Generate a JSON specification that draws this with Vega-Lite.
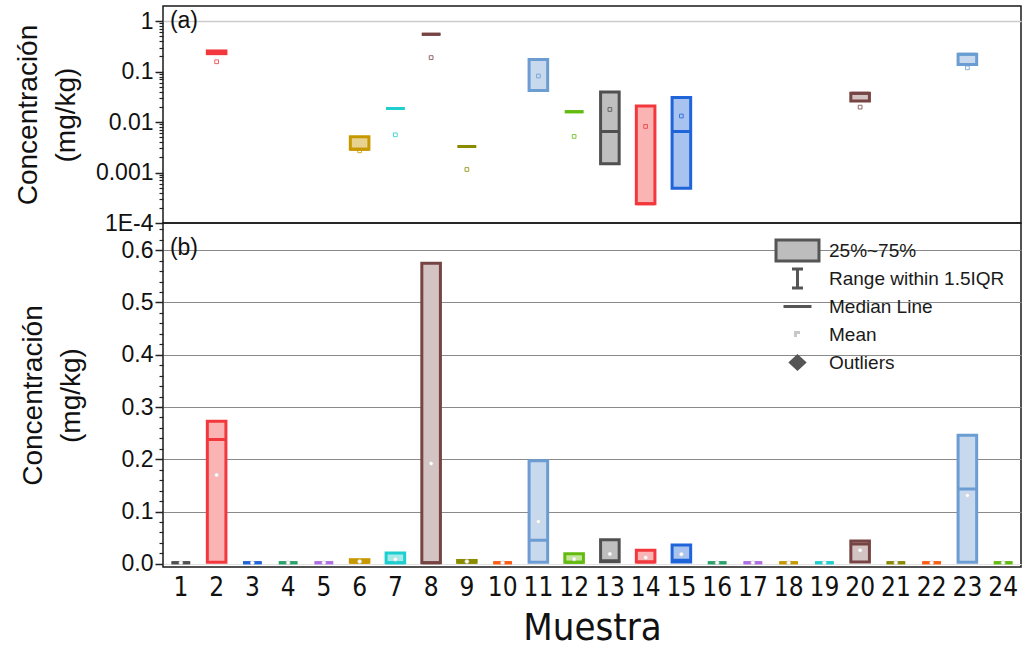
{
  "$schema": "https://vega.github.io/schema/vega-lite/v6.json",
  "background": "white",
  "padding": {"left": 13, "top": 5, "right": 5, "bottom": 0},
  "spacing": 0,
  "bounds": "flush",
  "config": {
    "view": {"stroke": "#1a1a1a", "strokeWidth": 1.5},
    "font": "Liberation Sans",
    "axis": {"labelColor": "#111111", "titleColor": "#111111", "titleFontWeight": "normal", "labelOverlap": false, "labelFlush": false}
  },
  "datasets": {
    "stats": [
      {"m": 1, "q1": 0.002, "q3": 0.002, "med": 0.002, "mean": 0.002, "lq1": null, "lq3": null, "lmed": null, "lmean": null},
      {"m": 2, "q1": 0.003, "q3": 0.273, "med": 0.238, "mean": 0.170, "lq1": 0.227, "lq3": 0.257, "lmed": 0.238, "lmean": 0.157},
      {"m": 3, "q1": 0.002, "q3": 0.002, "med": 0.002, "mean": 0.002, "lq1": null, "lq3": null, "lmed": null, "lmean": null},
      {"m": 4, "q1": 0.002, "q3": 0.002, "med": 0.002, "mean": 0.002, "lq1": null, "lq3": null, "lmed": null, "lmean": null},
      {"m": 5, "q1": 0.002, "q3": 0.002, "med": 0.002, "mean": 0.002, "lq1": null, "lq3": null, "lmed": null, "lmean": null},
      {"m": 6, "q1": 0.003, "q3": 0.008, "med": 0.003, "mean": 0.0045, "lq1": 0.0029, "lq3": 0.0051, "lmed": 0.0029, "lmean": 0.0027},
      {"m": 7, "q1": 0.002, "q3": 0.021, "med": 0.002, "mean": 0.009, "lq1": 0.0185, "lq3": 0.0185, "lmed": 0.0185, "lmean": 0.0056},
      {"m": 8, "q1": 0.002, "q3": 0.575, "med": 0.002, "mean": 0.192, "lq1": 0.55, "lq3": 0.55, "lmed": 0.55, "lmean": 0.19},
      {"m": 9, "q1": 0.003, "q3": 0.0065, "med": 0.003, "mean": 0.0045, "lq1": 0.0033, "lq3": 0.0033, "lmed": 0.0033, "lmean": 0.00115},
      {"m": 10, "q1": 0.002, "q3": 0.002, "med": 0.002, "mean": 0.002, "lq1": null, "lq3": null, "lmed": null, "lmean": null},
      {"m": 11, "q1": 0.003, "q3": 0.197, "med": 0.045, "mean": 0.081, "lq1": 0.0424, "lq3": 0.175, "lmed": 0.0424, "lmean": 0.082},
      {"m": 12, "q1": 0.003, "q3": 0.0195, "med": 0.003, "mean": 0.0095, "lq1": 0.016, "lq3": 0.016, "lmed": 0.016, "lmean": 0.0052},
      {"m": 13, "q1": 0.004, "q3": 0.046, "med": 0.006, "mean": 0.019, "lq1": 0.0015, "lq3": 0.0395, "lmed": 0.0065, "lmean": 0.0178},
      {"m": 14, "q1": 0.0035, "q3": 0.026, "med": 0.0035, "mean": 0.012, "lq1": 0.00024, "lq3": 0.0209, "lmed": 0.00024, "lmean": 0.0082},
      {"m": 15, "q1": 0.0035, "q3": 0.036, "med": 0.007, "mean": 0.0185, "lq1": 0.00049, "lq3": 0.0306, "lmed": 0.0065, "lmean": 0.0132},
      {"m": 16, "q1": 0.002, "q3": 0.002, "med": 0.002, "mean": 0.002, "lq1": null, "lq3": null, "lmed": null, "lmean": null},
      {"m": 17, "q1": 0.002, "q3": 0.002, "med": 0.002, "mean": 0.002, "lq1": null, "lq3": null, "lmed": null, "lmean": null},
      {"m": 18, "q1": 0.002, "q3": 0.002, "med": 0.002, "mean": 0.002, "lq1": null, "lq3": null, "lmed": null, "lmean": null},
      {"m": 19, "q1": 0.002, "q3": 0.002, "med": 0.002, "mean": 0.002, "lq1": null, "lq3": null, "lmed": null, "lmean": null},
      {"m": 20, "q1": 0.0035, "q3": 0.0435, "med": 0.038, "mean": 0.026, "lq1": 0.0263, "lq3": 0.0372, "lmed": 0.0372, "lmean": 0.0198},
      {"m": 21, "q1": 0.002, "q3": 0.002, "med": 0.002, "mean": 0.002, "lq1": null, "lq3": null, "lmed": null, "lmean": null},
      {"m": 22, "q1": 0.002, "q3": 0.002, "med": 0.002, "mean": 0.002, "lq1": null, "lq3": null, "lmed": null, "lmean": null},
      {"m": 23, "q1": 0.003, "q3": 0.246, "med": 0.143, "mean": 0.131, "lq1": 0.138, "lq3": 0.22, "lmed": 0.22, "lmean": 0.119},
      {"m": 24, "q1": 0.002, "q3": 0.002, "med": 0.002, "mean": 0.002, "lq1": null, "lq3": null, "lmed": null, "lmean": null}
    ],
    "legendItems": [
      {"item": "25%~75%"},
      {"item": "Range within 1.5IQR"},
      {"item": "Median Line"},
      {"item": "Mean"},
      {"item": "Outliers"}
    ]
  },
  "resolve": {"scale": {"x": "independent", "fill": "independent", "stroke": "independent", "shape": "independent"}, "legend": {"fill": "independent", "stroke": "independent", "shape": "independent"}},
  "vconcat": [
    {
      "width": 858,
      "height": 217,
      "encoding": {
        "x": {"field": "m", "type": "ordinal", "scale": {"domain": [1,2,3,4,5,6,7,8,9,10,11,12,13,14,15,16,17,18,19,20,21,22,23,24], "paddingInner": 0, "paddingOuter": 0}, "axis": null}
      },
      "layer": [
        {
          "data": {"name": "stats"},
          "transform": [{"filter": "datum.lq3 != null"}],
          "mark": {"type": "bar", "strokeWidth": 3, "width": {"band": 0.52}},
          "encoding": {
            "y": {
              "field": "lq1", "type": "quantitative",
              "scale": {"type": "log", "domain": [0.0001, 2], "nice": false},
              "axis": {
                "orient": "left",
                "values": [0.0001, 0.001, 0.01, 0.1, 1],
                "labelExpr": "datum.value < 0.0005 ? '1E-4' : datum.value < 0.005 ? '0.001' : datum.value < 0.05 ? '0.01' : datum.value < 0.5 ? '0.1' : '1'",
                "title": ["Concentración", "(mg/kg)"],
                "titleFontSize": 28,
                "titleLineHeight": 38,
                "titlePadding": 15,
                "labelFontSize": 23,
                "labelPadding": 2,
                "tickSize": 8,
                "tickWidth": 1.5,
                "tickColor": "#222222",
                "domain": false,
                "grid": true,
                "gridWidth": 1.5,
                "gridColor": {"condition": {"test": "datum.value == 1", "value": "#cccccc"}, "value": "rgba(0,0,0,0)"}
              }
            },
            "y2": {"field": "lq3"},
            "fill": {"field": "m", "type": "ordinal", "legend": null,
              "scale": {"domain": [1,2,3,4,5,6,7,8,9,10,11,12,13,14,15,16,17,18,19,20,21,22,23,24],
                "range": ["#bfbfbf","#fbb4b4","#a8c3ef","#a9dcc3","#e0c8f5","#e7d28f","#a4ecec","#d3c3c3","#d6d68f","#ffc3a6","#c8d8ed","#c4e79b","#bfbfbf","#fbb4b4","#a8c3ef","#a9dcc3","#e0c8f5","#e7d28f","#a4ecec","#d3c3c3","#d6d68f","#ffc3a6","#c8d8ed","#c4e79b"]}},
            "stroke": {"field": "m", "type": "ordinal", "legend": null,
              "scale": {"domain": [1,2,3,4,5,6,7,8,9,10,11,12,13,14,15,16,17,18,19,20,21,22,23,24],
                "range": ["#505050","#f2383c","#1f64d9","#2aa36b","#b06ee4","#c89800","#1fcfcf","#774444","#8b8b00","#ff5c14","#6b9dd3","#63bb10","#505050","#f2383c","#1f64d9","#2aa36b","#b06ee4","#c89800","#1fcfcf","#774444","#8b8b00","#ff5c14","#6b9dd3","#63bb10"]}}
          }
        },
        {
          "data": {"name": "stats"},
          "transform": [{"filter": "datum.lq3 != null"}],
          "mark": {"type": "bar", "strokeWidth": 3, "fillOpacity": 0, "width": {"band": 0.52}},
          "encoding": {
            "y": {"field": "lmed", "type": "quantitative",
              "axis": {
                "orient": "left",
                "values": [0.0002,0.0003,0.0004,0.0005,0.0006,0.0007,0.0008,0.0009,0.002,0.003,0.004,0.005,0.006,0.007,0.008,0.009,0.02,0.03,0.04,0.05,0.06,0.07,0.08,0.09,0.2,0.3,0.4,0.5,0.6,0.7,0.8,0.9],
                "labels": false, "title": null, "domain": false, "grid": false,
                "tickSize": 4, "tickWidth": 1.2, "tickColor": "#222222"
              }
            },
            "y2": {"field": "lmed"},
            "stroke": {"field": "m", "type": "ordinal", "legend": null,
              "scale": {"domain": [1,2,3,4,5,6,7,8,9,10,11,12,13,14,15,16,17,18,19,20,21,22,23,24],
                "range": ["#505050","#f2383c","#1f64d9","#2aa36b","#b06ee4","#c89800","#1fcfcf","#774444","#8b8b00","#ff5c14","#6b9dd3","#63bb10","#505050","#f2383c","#1f64d9","#2aa36b","#b06ee4","#c89800","#1fcfcf","#774444","#8b8b00","#ff5c14","#6b9dd3","#63bb10"]}}
          }
        },
        {
          "data": {"name": "stats"},
          "transform": [{"filter": "datum.lmean != null"}],
          "mark": {"type": "point", "shape": "square", "filled": false, "size": 14, "strokeWidth": 1, "opacity": 0.8},
          "encoding": {
            "y": {"field": "lmean", "type": "quantitative", "axis": null},
            "stroke": {"field": "m", "type": "ordinal", "legend": null,
              "scale": {"domain": [1,2,3,4,5,6,7,8,9,10,11,12,13,14,15,16,17,18,19,20,21,22,23,24],
                "range": ["#505050","#f2383c","#1f64d9","#2aa36b","#b06ee4","#c89800","#1fcfcf","#774444","#8b8b00","#ff5c14","#6b9dd3","#63bb10","#505050","#f2383c","#1f64d9","#2aa36b","#b06ee4","#c89800","#1fcfcf","#774444","#8b8b00","#ff5c14","#6b9dd3","#63bb10"]}}
          }
        },
        {
          "data": {"values": [{"lab": "(a)"}]},
          "mark": {"type": "text", "align": "left", "baseline": "middle", "dx": -11, "fontSize": 23, "color": "#111111"},
          "encoding": {
            "x": {"datum": 1},
            "y": {"datum": 1, "axis": null},
            "text": {"field": "lab"}
          }
        }
      ],
      "resolve": {"axis": {"y": "independent"}, "scale": {"stroke": "independent", "fill": "independent"}}
    },
    {
      "width": 858,
      "height": 344,
      "encoding": {
        "x": {"field": "m", "type": "ordinal", "scale": {"domain": [1,2,3,4,5,6,7,8,9,10,11,12,13,14,15,16,17,18,19,20,21,22,23,24], "paddingInner": 0, "paddingOuter": 0},
          "axis": {"title": "Muestra", "labelAngle": 0, "labelFont": "'DejaVu Sans Condensed', 'Liberation Sans'", "labelFontSize": 26, "titleFont": "'DejaVu Sans Condensed', 'Liberation Sans'", "titleFontSize": 38, "ticks": false, "domain": false, "labelPadding": 7, "titlePadding": 9}}
      },
      "layer": [
        {
          "data": {"name": "stats"},
          "mark": {"type": "bar", "strokeWidth": 3, "width": {"band": 0.52}},
          "encoding": {
            "y": {
              "field": "q1", "type": "quantitative",
              "scale": {"domain": [-0.006, 0.652], "nice": false, "zero": false},
              "axis": {
                "orient": "left",
                "values": [0, 0.1, 0.2, 0.3, 0.4, 0.5, 0.6],
                "format": ".1f",
                "title": ["Concentración", "(mg/kg)"],
                "titleFontSize": 28,
                "titleLineHeight": 38,
                "titlePadding": 36,
                "labelFontSize": 23,
                "labelPadding": 2,
                "tickSize": 8,
                "tickWidth": 1.5,
                "tickColor": "#222222",
                "domain": false,
                "grid": true,
                "gridWidth": 1,
                "gridColor": {"condition": {"test": "datum.value == 0", "value": "#e2e2e2"}, "value": "#8a8a8a"}
              }
            },
            "y2": {"field": "q3"},
            "fill": {"field": "m", "type": "ordinal", "legend": null,
              "scale": {"domain": [1,2,3,4,5,6,7,8,9,10,11,12,13,14,15,16,17,18,19,20,21,22,23,24],
                "range": ["#bfbfbf","#fbb4b4","#a8c3ef","#a9dcc3","#e0c8f5","#e7d28f","#a4ecec","#d3c3c3","#d6d68f","#ffc3a6","#c8d8ed","#c4e79b","#bfbfbf","#fbb4b4","#a8c3ef","#a9dcc3","#e0c8f5","#e7d28f","#a4ecec","#d3c3c3","#d6d68f","#ffc3a6","#c8d8ed","#c4e79b"]}},
            "stroke": {"field": "m", "type": "ordinal", "legend": null,
              "scale": {"domain": [1,2,3,4,5,6,7,8,9,10,11,12,13,14,15,16,17,18,19,20,21,22,23,24],
                "range": ["#505050","#f2383c","#1f64d9","#2aa36b","#b06ee4","#c89800","#1fcfcf","#774444","#8b8b00","#ff5c14","#6b9dd3","#63bb10","#505050","#f2383c","#1f64d9","#2aa36b","#b06ee4","#c89800","#1fcfcf","#774444","#8b8b00","#ff5c14","#6b9dd3","#63bb10"]}}
          }
        },
        {
          "data": {"name": "stats"},
          "mark": {"type": "bar", "strokeWidth": 3, "fillOpacity": 0, "width": {"band": 0.52}},
          "encoding": {
            "y": {"field": "med", "type": "quantitative",
              "axis": {
                "orient": "left",
                "values": [0.02,0.04,0.06,0.08,0.12,0.14,0.16,0.18,0.22,0.24,0.26,0.28,0.32,0.34,0.36,0.38,0.42,0.44,0.46,0.48,0.52,0.54,0.56,0.58,0.62,0.64],
                "labels": false, "title": null, "domain": false, "grid": false,
                "tickSize": 4, "tickWidth": 1.2, "tickColor": "#222222"
              }
            },
            "y2": {"field": "med"},
            "stroke": {"field": "m", "type": "ordinal", "legend": null,
              "scale": {"domain": [1,2,3,4,5,6,7,8,9,10,11,12,13,14,15,16,17,18,19,20,21,22,23,24],
                "range": ["#505050","#f2383c","#1f64d9","#2aa36b","#b06ee4","#c89800","#1fcfcf","#774444","#8b8b00","#ff5c14","#6b9dd3","#63bb10","#505050","#f2383c","#1f64d9","#2aa36b","#b06ee4","#c89800","#1fcfcf","#774444","#8b8b00","#ff5c14","#6b9dd3","#63bb10"]}}
          }
        },
        {
          "data": {"name": "stats"},
          "mark": {"type": "point", "shape": "circle", "filled": true, "fill": "white", "size": 16, "stroke": "#cfcfcf", "strokeWidth": 0.6, "opacity": 1},
          "encoding": {
            "y": {"field": "mean", "type": "quantitative", "axis": null}
          }
        },
        {
          "data": {"values": [{"lab": "(b)"}]},
          "mark": {"type": "text", "align": "left", "baseline": "middle", "dx": -11, "dy": -2, "fontSize": 23, "color": "#111111"},
          "encoding": {
            "x": {"datum": 1},
            "y": {"datum": 0.6, "axis": null},
            "text": {"field": "lab"}
          }
        },
        {
          "data": {"name": "legendItems"},
          "mark": {"type": "point", "opacity": 0, "filled": true},
          "encoding": {
            "x": {"datum": 1},
            "y": {"datum": 0.3, "axis": null},
            "shape": {"field": "item", "type": "nominal",
              "scale": {"domain": ["25%~75%", "Range within 1.5IQR", "Median Line", "Mean", "Outliers"],
                "range": ["M-2.15,-1.05H2.15V1.05H-2.15Z", "M-0.55,-0.95H0.55M0,-0.95V0.95M-0.55,0.95H0.55", "M-1.4,0H1.4", "M-0.2,0.25V-0.2H0.25", "M0,-0.65L0.7,0L0,0.65L-0.7,0Z"]},
              "legend": {"title": null, "orient": "top-right", "offset": 16, "labelFont": "Liberation Sans", "labelFontSize": 19, "labelColor": "#1a1a1a", "labelOffset": 20, "symbolSize": 400, "symbolStrokeWidth": 3, "rowPadding": -8, "gridAlign": "all", "symbolOpacity": 1, "padding": 0, "labelLimit": 400}},
            "fill": {"field": "item", "type": "nominal",
              "scale": {"domain": ["25%~75%", "Range within 1.5IQR", "Median Line", "Mean", "Outliers"],
                "range": ["#bdbdbd", "rgba(0,0,0,0)", "rgba(0,0,0,0)", "rgba(0,0,0,0)", "#555555"]},
              "legend": {"title": null, "orient": "top-right", "offset": 16, "labelFont": "Liberation Sans", "labelFontSize": 19, "labelColor": "#1a1a1a", "labelOffset": 20, "symbolSize": 400, "symbolStrokeWidth": 3, "rowPadding": -8, "gridAlign": "all", "symbolOpacity": 1, "padding": 0, "labelLimit": 400}},
            "stroke": {"field": "item", "type": "nominal",
              "scale": {"domain": ["25%~75%", "Range within 1.5IQR", "Median Line", "Mean", "Outliers"],
                "range": ["#555555", "#555555", "#555555", "#c8c8c8", "#555555"]},
              "legend": {"title": null, "orient": "top-right", "offset": 16, "labelFont": "Liberation Sans", "labelFontSize": 19, "labelColor": "#1a1a1a", "labelOffset": 20, "symbolSize": 400, "symbolStrokeWidth": 3, "rowPadding": -8, "gridAlign": "all", "symbolOpacity": 1, "padding": 0, "labelLimit": 400}}
          }
        }
      ],
      "resolve": {"axis": {"y": "independent"}, "scale": {"stroke": "independent", "fill": "independent", "shape": "independent"}}
    }
  ]
}
